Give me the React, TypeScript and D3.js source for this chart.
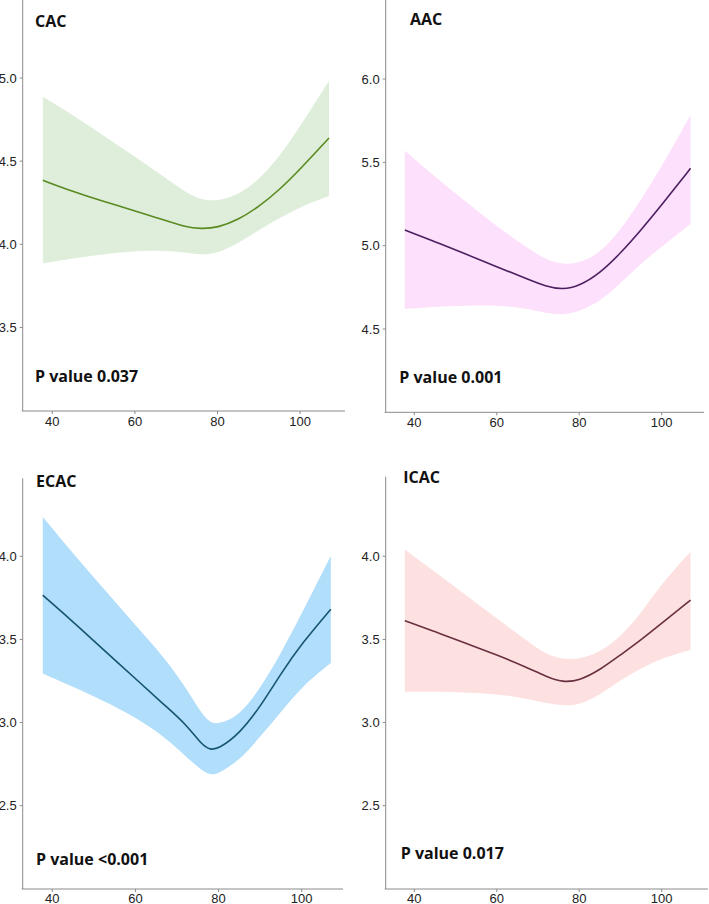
import React from "react";
import * as d3 from "d3";

// ---------- data ----------
const X_TICKS = [40, 60, 80, 100];
const X_GRID = [37.7, 45, 52, 60, 67, 72, 76, 80, 85, 90, 95, 100, 107];
const X_GRID_ECAC = [37.7, 45, 52, 60, 67, 72, 76, 78, 80, 85, 90, 95, 100, 107];

const CAC_FIT = [4.385, 4.317, 4.26, 4.202, 4.146, 4.106, 4.092, 4.1, 4.146, 4.226, 4.327, 4.451, 4.639];
const CAC_UPPER = [4.887, 4.777, 4.661, 4.527, 4.407, 4.317, 4.266, 4.26, 4.296, 4.387, 4.527, 4.707, 4.982];
const CAC_LOWER = [3.886, 3.916, 3.94, 3.96, 3.962, 3.952, 3.936, 3.946, 4.006, 4.086, 4.156, 4.226, 4.29];
const CAC_Y_TICKS = [3.5, 4.0, 4.5, 5.0];

const AAC_FIT = [5.094, 5.024, 4.954, 4.874, 4.804, 4.754, 4.736, 4.758, 4.834, 4.954, 5.094, 5.244, 5.464];
const AAC_UPPER = [5.57, 5.414, 5.274, 5.114, 4.994, 4.914, 4.888, 4.894, 4.954, 5.094, 5.274, 5.474, 5.784];
const AAC_LOWER = [4.62, 4.634, 4.64, 4.644, 4.624, 4.594, 4.584, 4.604, 4.664, 4.774, 4.894, 4.994, 5.13];
const AAC_Y_TICKS = [4.5, 5.0, 5.5, 6.0];

const ECAC_FIT = [3.766, 3.606, 3.445, 3.265, 3.104, 2.995, 2.865, 2.836, 2.842, 2.932, 3.094, 3.295, 3.475, 3.682];
const ECAC_UPPER = [4.237, 4.017, 3.816, 3.586, 3.39, 3.215, 3.05, 3.0, 2.99, 3.04, 3.205, 3.415, 3.656, 4.003];
const ECAC_LOWER = [3.295, 3.215, 3.134, 3.034, 2.914, 2.8, 2.71, 2.685, 2.692, 2.773, 2.914, 3.064, 3.215, 3.359];
const ECAC_Y_TICKS = [2.5, 3.0, 3.5, 4.0];

const ICAC_FIT = [3.613, 3.547, 3.481, 3.407, 3.336, 3.276, 3.242, 3.252, 3.316, 3.407, 3.497, 3.597, 3.737];
const ICAC_UPPER = [4.041, 3.907, 3.777, 3.627, 3.497, 3.407, 3.381, 3.381, 3.421, 3.517, 3.657, 3.837, 4.027];
const ICAC_LOWER = [3.186, 3.186, 3.182, 3.172, 3.146, 3.116, 3.102, 3.106, 3.166, 3.256, 3.326, 3.387, 3.437];
const ICAC_Y_TICKS = [2.5, 3.0, 3.5, 4.0];

const TITLES = ["CAC", "AAC", "ECAC", "ICAC"];
const P_LABELS = ["P value 0.037", "P value 0.001", "P value <0.001", "P value 0.017"];

// ---------- layout ----------
type Panel = {
  title: string;
  p: string;
  xs: number[];
  fit: number[];
  up: number[];
  lo: number[];
  yTicks: number[];
  xPx: [number, number];
  yRef: [number, number];
  yPx: [number, number];
  axisLeft: number;
  axisRight: number;
  axisTop: number;
  axisBottom: number;
  labelOffset: number;
  titlePos: [number, number];
  pPos: [number, number];
  band: string;
  line: string;
};

const panels: Panel[] = [
  {
    title: TITLES[0], p: P_LABELS[0], xs: X_GRID, fit: CAC_FIT, up: CAC_UPPER, lo: CAC_LOWER, yTicks: CAC_Y_TICKS,
    xPx: [52.3, 300.1], yRef: [4.0, 5.0], yPx: [244.3, 78],
    axisLeft: 22.7, axisRight: 345, axisTop: 0, axisBottom: 411, labelOffset: 15,
    titlePos: [35, 26.5], pPos: [35, 381.5], band: "#deeedb", line: "#5a8a1f",
  },
  {
    title: TITLES[1], p: P_LABELS[1], xs: X_GRID, fit: AAC_FIT, up: AAC_UPPER, lo: AAC_LOWER, yTicks: AAC_Y_TICKS,
    xPx: [414.3, 661.7], yRef: [4.5, 6.0], yPx: [329, 79],
    axisLeft: 385.7, axisRight: 704, axisTop: 0, axisBottom: 412.3, labelOffset: 15,
    titlePos: [410, 24.5], pPos: [399.3, 382.7], band: "#fde0fb", line: "#4b1f60",
  },
  {
    title: TITLES[2], p: P_LABELS[2], xs: X_GRID_ECAC, fit: ECAC_FIT, up: ECAC_UPPER, lo: ECAC_LOWER, yTicks: ECAC_Y_TICKS,
    xPx: [52.3, 301.7], yRef: [2.5, 4.0], yPx: [805.7, 556.3],
    axisLeft: 22.7, axisRight: 343, axisTop: 478.3, axisBottom: 889, labelOffset: 13.5,
    titlePos: [36, 487], pPos: [36, 865], band: "#b1defb", line: "#17546f",
  },
  {
    title: TITLES[3], p: P_LABELS[3], xs: X_GRID, fit: ICAC_FIT, up: ICAC_UPPER, lo: ICAC_LOWER, yTicks: ICAC_Y_TICKS,
    xPx: [414.3, 661.7], yRef: [2.5, 4.0], yPx: [805.7, 556.3],
    axisLeft: 385.7, axisRight: 708, axisTop: 476.7, axisBottom: 889, labelOffset: 13.5,
    titlePos: [403.3, 483], pPos: [400.7, 859.3], band: "#fde1e0", line: "#6a2f40",
  },
];

const AXIS_COLOR = "#8a8a8a";
const TICK_FONT = "'Liberation Sans', Arial, sans-serif";
const TITLE_FONT = "'Open Sans', 'Noto Sans', sans-serif";

function PanelView({ pn }: { pn: Panel }) {
  const x = d3.scaleLinear().domain([40, 100]).range(pn.xPx);
  const y = d3.scaleLinear().domain(pn.yRef).range(pn.yPx);
  const pts = pn.xs.map((xv, i) => ({ x: xv, f: pn.fit[i], u: pn.up[i], l: pn.lo[i] }));
  const curve = d3.curveBasis;
  const area = d3
    .area<any>()
    .x((d) => x(d.x))
    .y0((d) => y(d.l))
    .y1((d) => y(d.u))
    .curve(curve);
  const line = d3
    .line<any>()
    .x((d) => x(d.x))
    .y((d) => y(d.f))
    .curve(curve);
  return (
    <g>
      <path d={area(pts) || ""} fill={pn.band} stroke="none" />
      <path d={line(pts) || ""} fill="none" stroke={pn.line} strokeWidth={1.6} />
      <line x1={pn.axisLeft} x2={pn.axisLeft} y1={pn.axisTop} y2={pn.axisBottom} stroke={AXIS_COLOR} strokeWidth={1} />
      <line x1={pn.axisLeft - 1} x2={pn.axisRight} y1={pn.axisBottom} y2={pn.axisBottom} stroke={AXIS_COLOR} strokeWidth={1} />
      {pn.yTicks.map((t) => (
        <g key={"y" + t}>
          <line x1={pn.axisLeft - 3} x2={pn.axisLeft} y1={y(t)} y2={y(t)} stroke={AXIS_COLOR} strokeWidth={1} />
          <text
            x={pn.axisLeft - 6}
            y={y(t)}
            dy="0.35em"
            textAnchor="end"
            fontFamily={TICK_FONT}
            fontSize={13}
            fill="#222"
          >
            {d3.format(".1f")(t)}
          </text>
        </g>
      ))}
      {X_TICKS.map((t) => (
        <g key={"x" + t}>
          <line x1={x(t)} x2={x(t)} y1={pn.axisBottom} y2={pn.axisBottom + 3} stroke={AXIS_COLOR} strokeWidth={1} />
          <text
            x={x(t)}
            y={pn.axisBottom + pn.labelOffset}
            textAnchor="middle"
            fontFamily={TICK_FONT}
            fontSize={13}
            fill="#222"
          >
            {t}
          </text>
        </g>
      ))}
      <text x={pn.titlePos[0]} y={pn.titlePos[1]} fontFamily={TITLE_FONT} fontWeight={700} fontSize={16} fill="#111">
        {pn.title}
      </text>
      <text x={pn.pPos[0]} y={pn.pPos[1]} fontFamily={TITLE_FONT} fontWeight={700} fontSize={16} fill="#111">
        {pn.p}
      </text>
    </g>
  );
}

export default function App() {
  return (
    <svg
      width={709}
      height={904}
      style={{ position: "absolute", left: 0, top: 0, background: "#fff" }}
      xmlns="http://www.w3.org/2000/svg"
    >
      <rect x={0} y={0} width={709} height={904} fill="#fff" />
      {panels.map((pn) => (
        <PanelView key={pn.title} pn={pn} />
      ))}
    </svg>
  );
}
